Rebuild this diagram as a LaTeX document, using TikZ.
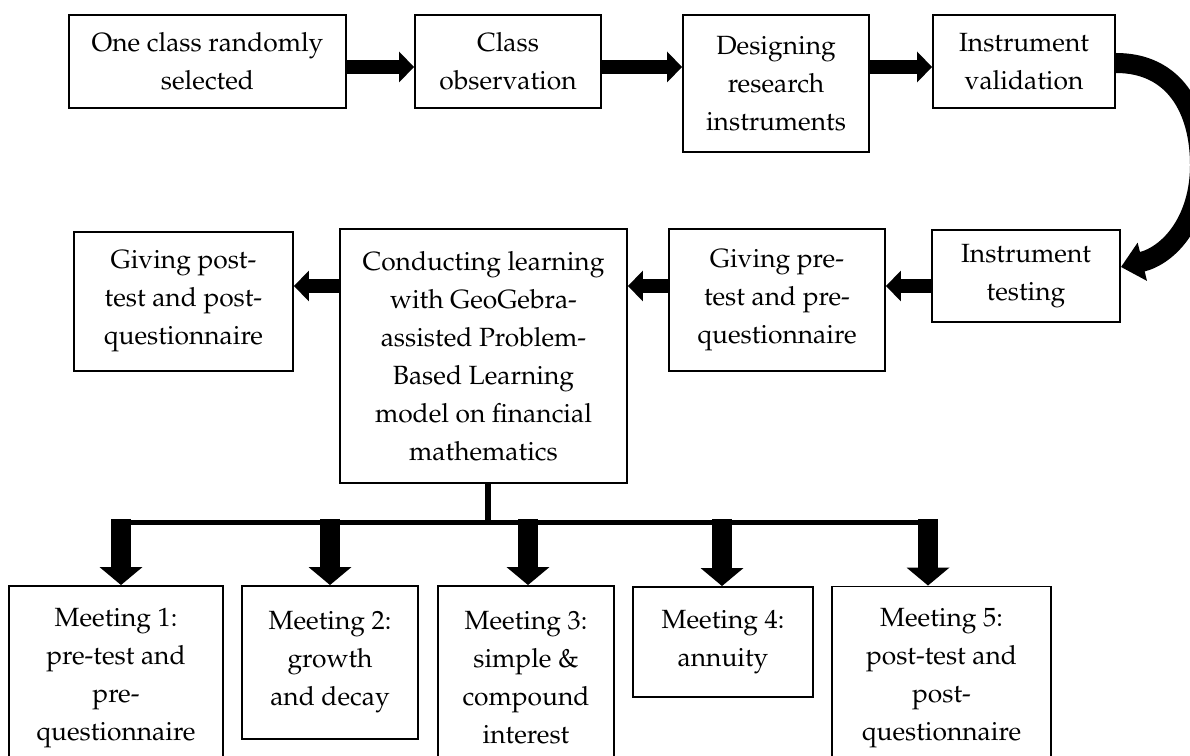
\documentclass[tikz,border=0pt]{standalone}
\usepackage[T1]{fontenc}
\usepackage{mathpazo}
\usepackage{tikz}
\usetikzlibrary{arrows.meta}
\tikzstyle{stepbox} = [draw=black, line width=1.1pt, rectangle, align=center, inner sep=0pt, font=\fontsize{15}{21.6}\selectfont]
\tikzstyle{stepflow} = [line width=0.28cm, -{Triangle[length=0.3cm,width=0.6cm]}]
\tikzstyle{meetdrop} = [line width=0.4cm, -{Triangle[length=0.36cm,width=0.84cm]}]
\tikzstyle{turnflow} = [line width=0.4cm, -{Triangle[length=0.44cm,width=0.76cm]}]

\begin{document}
\begin{tikzpicture}[x=0.02cm, y=-0.02cm]
\useasboundingbox (0,0) rectangle (1190,756);
% first row
\node [stepbox, minimum width=5.54cm, minimum height=1.86cm] (sel) at (207.5,61.5) {One class randomly\\selected};
\node [stepbox, minimum width=3.72cm, minimum height=1.86cm] (obs) at (508,61.5) {Class\\observation};
\node [stepbox, minimum width=3.72cm, minimum height=2.74cm] (des) at (776,83.5) {Designing\\research\\instruments};
\node [stepbox, minimum width=3.64cm, minimum height=1.86cm] (val) at (1024,61.5) {Instrument\\validation};
% second row
\node [stepbox, minimum width=3.76cm, minimum height=1.84cm] (tst) at (1026,276) {Instrument\\testing};
\node [stepbox, minimum width=4.32cm, minimum height=2.84cm] (pre) at (777,300) {Giving pre-\\test and pre-\\questionnaire};
\node [stepbox, minimum width=5.74cm, minimum height=5.08cm] (pbl) at (483.5,356) {Conducting learning\\with GeoGebra-\\assisted Problem-\\Based Learning\\model on financial\\mathematics};
\node [stepbox, minimum width=4.38cm, minimum height=2.78cm] (post) at (183.5,301.5) {Giving post-\\test and post-\\questionnaire};
% meetings
\node [stepbox, minimum width=4.28cm, minimum height=3.68cm] (m1) at (116,678) {Meeting 1:\\pre-test and\\pre-\\questionnaire};
\node [stepbox, minimum width=3.52cm, minimum height=3.06cm] (m2) at (330,662.5) {Meeting 2:\\growth\\and decay};
\node [stepbox, minimum width=3.52cm, minimum height=3.68cm] (m3) at (526,678) {Meeting 3:\\simple \&\\compound\\interest};
\node [stepbox, minimum width=3.6cm, minimum height=2.2cm] (m4) at (723,642) {Meeting 4:\\annuity};
\node [stepbox, minimum width=4.38cm, minimum height=3.66cm] (m5) at (941.5,678) {Meeting 5:\\post-test and\\post-\\questionnaire};

\coordinate (toprow) at (0,67);
\coordinate (midrow) at (0,286);
\draw [stepflow] (sel.east |- toprow) -- (obs.west |- toprow);
\draw [stepflow] (obs.east |- toprow) -- (des.west |- toprow);
\draw [stepflow] (des.east |- toprow) -- (val.west |- toprow);
\draw [turnflow] (val.east |- 0,63) .. controls (1175,63) and (1200,110) .. (1200,165)
  .. controls (1200,220) and (1170,255) .. (tst.east |- 0,267);
\draw [stepflow] (tst.west |- midrow) -- (pre.east |- midrow);
\draw [stepflow] (pre.west |- midrow) -- (pbl.east |- midrow);
\draw [stepflow] (pbl.west |- midrow) -- (post.east |- midrow);

\coordinate (fork) at (488,523);
\coordinate (busL) at (112,523);
\coordinate (busR) at (938,523);
\draw [line width=0.12cm] (pbl.south -| fork) -- (fork);
\draw [line width=0.1cm] (busL) -- (busR);
\foreach \m/\x in {m1/121, m2/330, m3/528, m4/722, m5/928} {
  \coordinate (d\m) at (\x,519);
  \draw [meetdrop] (d\m) -- (d\m |- \m.north);
}
\end{tikzpicture}
\end{document}
